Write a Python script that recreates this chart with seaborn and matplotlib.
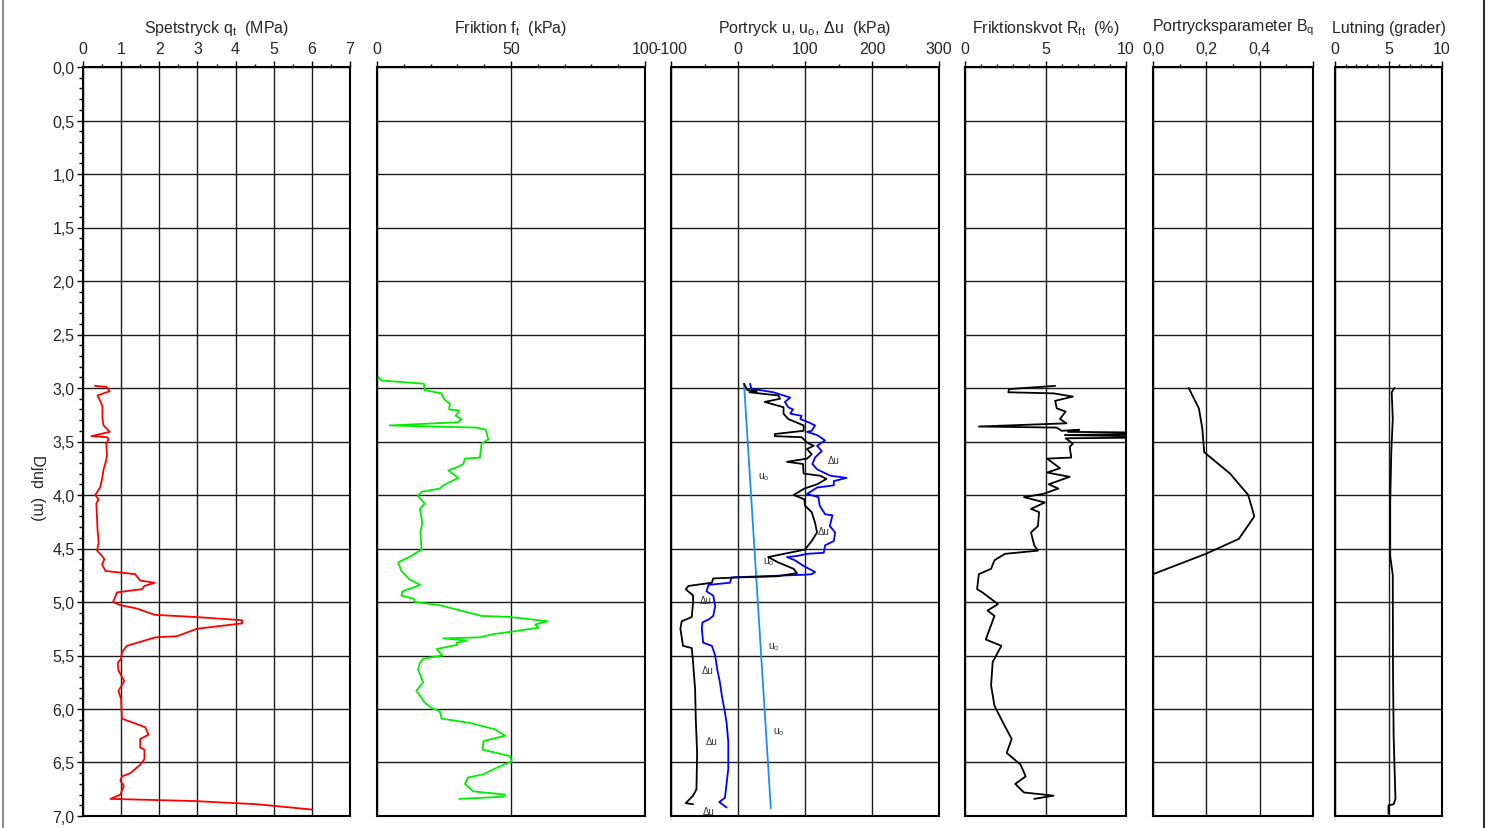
import numpy as np
import pandas as pd
import seaborn as sns
import matplotlib.pyplot as plt
from matplotlib.ticker import MultipleLocator, FixedLocator, FuncFormatter
from matplotlib.lines import Line2D

# Spetstryck qt (MPa)
qt_djup = [2.98, 2.99, 3.03, 3.07, 3.12, 3.17, 3.29, 3.35, 3.41, 3.45, 3.46, 3.48, 3.52, 3.63,
           3.70, 3.76, 3.85, 3.93, 4.00, 4.04, 4.08, 4.23, 4.32, 4.44, 4.52, 4.57, 4.60, 4.65,
           4.71, 4.74, 4.80, 4.82, 4.85, 4.88, 4.91, 5.00, 5.03, 5.06, 5.12, 5.14, 5.17, 5.20,
           5.25, 5.32, 5.33, 5.41, 5.47, 5.53, 5.57, 5.64, 5.74, 5.83, 5.91, 6.09, 6.17, 6.24,
           6.28, 6.36, 6.38, 6.47, 6.52, 6.60, 6.63, 6.67, 6.72, 6.80, 6.84, 6.86, 6.89, 6.94]
qt = [0.31, 0.61, 0.70, 0.38, 0.45, 0.51, 0.51, 0.54, 0.70, 0.22, 0.63, 0.67, 0.61, 0.63,
      0.59, 0.54, 0.50, 0.45, 0.32, 0.41, 0.35, 0.37, 0.38, 0.41, 0.37, 0.50, 0.56, 0.50,
      0.59, 1.37, 1.50, 1.88, 1.61, 1.55, 0.89, 0.79, 0.98, 1.40, 1.88, 2.94, 4.17, 4.17,
      2.99, 2.46, 1.90, 1.15, 1.02, 1.00, 0.91, 0.93, 1.08, 0.93, 1.00, 1.02, 1.63, 1.72,
      1.50, 1.50, 1.61, 1.61, 1.50, 1.24, 1.02, 0.98, 1.07, 0.98, 0.72, 2.90, 4.56, 6.00]

# Friktion ft (kPa)
ft_djup = [2.885, 2.93, 2.96, 3.02, 3.05, 3.10, 3.15, 3.20, 3.21, 3.26, 3.29, 3.32, 3.35, 3.37,
           3.39, 3.48, 3.52, 3.65, 3.66, 3.71, 3.74, 3.77, 3.84, 3.91, 3.94, 3.97, 4.01, 4.08,
           4.13, 4.26, 4.35, 4.51, 4.57, 4.63, 4.71, 4.79, 4.84, 4.90, 4.94, 4.97, 5.00, 5.03,
           5.13, 5.14, 5.18, 5.21, 5.24, 5.28, 5.30, 5.33, 5.34, 5.36, 5.38, 5.40, 5.44, 5.50,
           5.53, 5.57, 5.63, 5.75, 5.83, 5.94, 5.99, 6.02, 6.09, 6.13, 6.19, 6.25, 6.30, 6.38,
           6.44, 6.49, 6.55, 6.61, 6.64, 6.70, 6.77, 6.80, 6.82, 6.84]
ft = [0.0, 1.6, 17.5, 17.8, 24.1, 24.9, 27.2, 26.9, 30.7, 29.4, 31.5, 30.3, 4.7, 37.2,
      40.6, 41.5, 39.0, 38.4, 32.8, 32.2, 29.9, 26.6, 30.3, 24.7, 23.4, 16.6, 15.3, 17.8,
      16.0, 16.9, 16.2, 16.6, 12.8, 7.9, 9.1, 12.2, 16.2, 9.5, 9.1, 13.7, 14.1, 23.4,
      39.0, 49.6, 63.6, 59.0, 60.2, 49.6, 43.4, 38.4, 24.7, 33.4, 29.7, 30.0, 22.2, 24.4,
      17.2, 16.0, 15.3, 17.2, 14.7, 17.8, 20.3, 23.4, 24.1, 34.7, 44.0, 47.8, 39.7, 39.4,
      49.6, 50.2, 44.6, 39.7, 34.0, 32.8, 35.9, 47.8, 47.1, 30.7]

# Portryck u (kPa)
u_djup = [2.96, 3.01, 3.02, 3.04, 3.06, 3.09, 3.13, 3.18, 3.20, 3.24, 3.26, 3.29, 3.32, 3.35,
          3.40, 3.41, 3.44, 3.49, 3.54, 3.59, 3.65, 3.71, 3.76, 3.82, 3.84, 3.87, 3.91, 3.93,
          3.99, 4.02, 4.10, 4.18, 4.19, 4.29, 4.35, 4.43, 4.47, 4.54, 4.55, 4.57, 4.58, 4.61,
          4.66, 4.72, 4.74, 4.745, 4.77, 4.82, 4.84, 4.90, 4.94, 5.04, 5.13, 5.16, 5.19, 5.25,
          5.38, 5.41, 5.50, 5.63, 5.75, 5.88, 6.03, 6.13, 6.31, 6.56, 6.75, 6.83, 6.87, 6.92]
u = [18, 20, 33, 53, 63, 78, 70, 75, 82, 78, 95, 93, 105, 115,
     110, 103, 118, 130, 118, 125, 115, 111, 118, 138, 162, 143, 143, 118,
     103, 120, 122, 130, 141, 137, 145, 143, 130, 128, 103, 88, 73, 85,
     97, 115, 110, 100, -9.5, -12, -44, -47, -37, -34, -37, -43, -53, -54,
     -52, -39, -34, -31, -27, -24, -19.5, -17, -14.5, -14.5, -18, -19.5, -28, -17]

# Portrycksökning du (kPa)
du_djup = [2.96, 3.02, 3.03, 3.04, 3.07, 3.10, 3.13, 3.18, 3.24, 3.29, 3.35, 3.40, 3.43, 3.45,
           3.46, 3.51, 3.54, 3.57, 3.62, 3.66, 3.69, 3.71, 3.80, 3.82, 3.85, 3.90, 3.94, 4.00,
           4.04, 4.10, 4.16, 4.26, 4.35, 4.43, 4.51, 4.58, 4.63, 4.69, 4.73, 4.76, 4.77, 4.78,
           4.82, 4.85, 4.88, 4.94, 5.00, 5.14, 5.18, 5.25, 5.41, 5.43, 5.57, 5.82, 6.10, 6.41,
           6.75, 6.81, 6.88, 6.89]
du = [9, 14, 28, 17, 60, 63, 40, 68, 68, 75, 98, 98, 55, 55,
      95, 103, 113, 103, 110, 103, 73, 97, 98, 123, 132, 118, 99, 83,
      99, 100, 110, 115, 118, 110, 100, 45, 60, 83, 88, 58, 0.5, -37,
      -39, -74, -78, -67, -67, -69, -84, -86, -82, -69, -67, -64, -63, -61,
      -62, -67, -78, -67]

# Hydrostatiskt portryck u0 (kPa)
u0_djup = [2.96, 6.93]
u0 = [9, 49]

u0_etikett_djup = [3.82, 4.62, 5.41, 6.21]
u0_etikett_x = [30, 37, 45, 52]
du_etikett_djup = [3.67, 4.34, 4.98, 5.64, 6.30, 6.95]
du_etikett_x = [134, 119, -57, -54, -48, -52]

# Friktionskvot Rft (%)
rf_djup = [2.98, 3.01, 3.04, 3.05, 3.08, 3.12, 3.19, 3.22, 3.29, 3.33, 3.36, 3.37, 3.40, 3.39,
           3.41, 3.42, 3.44, 3.46, 3.47, 3.52, 3.55, 3.65, 3.66, 3.75, 3.79, 3.83, 3.90, 3.94,
           3.99, 4.02, 4.07, 4.13, 4.16, 4.29, 4.35, 4.47, 4.52, 4.55, 4.61, 4.69, 4.74, 4.88,
           4.91, 5.02, 5.08, 5.13, 5.35, 5.41, 5.56, 5.78, 5.97, 6.13, 6.28, 6.41, 6.52, 6.63,
           6.70, 6.78, 6.81, 6.84]
rf = [5.6, 2.74, 2.69, 5.5, 6.7, 5.6, 5.7, 6.25, 5.9, 6.3, 0.86, 5.7, 6.0, 7.1,
      6.4, 14.0, 6.2, 14.0, 6.25, 6.7, 6.5, 6.6, 5.1, 5.9, 5.1, 6.5, 5.2, 5.8,
      4.85, 3.66, 4.96, 4.1, 4.6, 4.53, 4.1, 4.3, 4.53, 2.48, 1.83, 1.62, 0.86, 0.75,
      1.08, 2.05, 1.4, 1.83, 1.29, 2.26, 1.72, 1.62, 1.83, 2.37, 2.9, 2.59, 3.45, 3.77,
      3.12, 3.66, 5.5, 4.3]

# Portrycksparameter Bq
bq_djup = [3.00, 3.19, 3.38, 3.60, 3.80, 4.00, 4.20, 4.41, 4.55, 4.74]
bq = [0.134, 0.172, 0.185, 0.192, 0.289, 0.357, 0.380, 0.322, 0.198, 0.0]

# Lutning (grader)
lut_djup = [3.00, 3.04, 3.29, 3.60, 4.07, 4.57, 4.75, 5.63, 6.25, 6.84, 6.89, 6.90, 6.98]
lut = [5.55, 5.3, 5.4, 5.26, 5.16, 5.16, 5.4, 5.42, 5.48, 5.65, 5.48, 5.0, 5.0]

sns.set_style("white")
plt.rcParams['font.family'] = ['Liberation Sans', 'DejaVu Sans']
plt.rcParams['mathtext.fontset'] = 'custom'
plt.rcParams['mathtext.rm'] = 'Liberation Sans'

W, H = 1491, 829
fig = plt.figure(figsize=(W / 100, H / 100), dpi=100)

top_px, bot_px = 68, 817
paneler = [(83, 350), (377, 645), (671, 939), (965, 1126), (1153, 1313), (1335, 1442)]
axes = []
for x0, x1 in paneler:
    ax = fig.add_axes([x0 / W, 1 - bot_px / H, (x1 - x0) / W, (bot_px - top_px) / H])
    axes.append(ax)

fs = 11.5


def komma(fmt):
    return FuncFormatter(lambda v, p: fmt.format(v).replace('.', ','))


def stil(ax, xlim, major, minor, fmt, titel):
    ax.set_xlim(xlim)
    ax.set_ylim(7, 0)
    ax.set_xlabel('')
    ax.set_ylabel('')
    ax.xaxis.tick_top()
    ax.xaxis.set_major_locator(FixedLocator(major))
    ax.xaxis.set_minor_locator(MultipleLocator(minor))
    ax.xaxis.set_major_formatter(fmt)
    ax.tick_params(axis='x', which='major', length=4.3, width=1, direction='out',
                   pad=3.5, labelsize=fs, color='black')
    ax.tick_params(axis='x', which='minor', length=2.5, width=1, direction='out', color='black')
    ax.yaxis.set_major_locator(MultipleLocator(0.5))
    ax.tick_params(axis='y', which='both', left=False, labelleft=False)
    ax.grid(True, which='major', color='0.1', lw=1.0)
    for s in ax.spines.values():
        s.set_color('black')
        s.set_linewidth(1.5)
    ax.text(0.5, 1 + 40 / (bot_px - top_px), titel, transform=ax.transAxes,
            ha='center', va='center', fontsize=fs)


lw = 1.3
sns.lineplot(x=qt, y=qt_djup, sort=False, estimator=None, color='#ff0000', lw=lw, ax=axes[0])
sns.lineplot(x=ft, y=ft_djup, sort=False, estimator=None, color='#00ee00', lw=lw, ax=axes[1])
sns.lineplot(x=u0, y=u0_djup, sort=False, estimator=None, color='#1a8cff', lw=lw, ax=axes[2])
sns.lineplot(x=u, y=u_djup, sort=False, estimator=None, color='#0000ff', lw=lw, ax=axes[2])
sns.lineplot(x=du, y=du_djup, sort=False, estimator=None, color='black', lw=lw, ax=axes[2])
sns.lineplot(x=rf, y=rf_djup, sort=False, estimator=None, color='black', lw=lw, ax=axes[3])
sns.lineplot(x=bq, y=bq_djup, sort=False, estimator=None, color='black', lw=lw, ax=axes[4])
sns.lineplot(x=lut, y=lut_djup, sort=False, estimator=None, color='black', lw=lw, ax=axes[5])

for x, d in zip(u0_etikett_x, u0_etikett_djup):
    axes[2].text(x, d, 'u$_\\mathregular{o}$', fontsize=7.5, ha='left', va='center', color='0.2')
for x, d in zip(du_etikett_x, du_etikett_djup):
    axes[2].text(x, d, 'Δu', fontsize=7, ha='left', va='center', color='0.2')

heltal = FuncFormatter(lambda v, p: '{:d}'.format(int(round(v))))
stil(axes[0], (0, 7), [0, 1, 2, 3, 4, 5, 6, 7], 0.5, heltal,
     'Spetstryck q$_\\mathregular{t}$  (MPa)')
stil(axes[1], (0, 100), [0, 50, 100], 10, heltal,
     'Friktion f$_\\mathregular{t}$  (kPa)')
stil(axes[2], (-100, 300), [-100, 0, 100, 200, 300], 50, heltal,
     'Portryck u, u$_\\mathregular{o}$, Δu  (kPa)')
stil(axes[3], (0, 10), [0, 5, 10], 1, heltal,
     'Friktionskvot R$_\\mathregular{ft}$  (%)')
stil(axes[4], (0, 0.6), [0, 0.2, 0.4, 0.6], 0.1,
     FuncFormatter(lambda v, p: '' if v > 0.5 else '{:.1f}'.format(v).replace('.', ',')),
     'Portrycksparameter B$_\\mathregular{q}$')
stil(axes[5], (0, 10), [0, 5, 10], 1, heltal, 'Lutning (grader)')

# djupaxel
ax = axes[0]
ax.yaxis.set_minor_locator(MultipleLocator(0.1))
ax.yaxis.set_major_formatter(komma('{:.1f}'))
ax.tick_params(axis='y', which='major', left=True, labelleft=True, length=4, width=1,
               direction='out', pad=2, labelsize=fs, color='black')
ax.tick_params(axis='y', which='minor', left=True, length=3, width=1, direction='out',
               color='black')
fig.text(37 / W, 1 - 488 / H, 'Djup  (m)', rotation=270, ha='center', va='center',
         fontsize=fs)

# sidram
fig.add_artist(Line2D([3 / W, 3 / W], [0, 1], color='0.45', lw=1.2))
fig.add_artist(Line2D([1484 / W, 1484 / W], [0, 1], color='black', lw=1.2))

fig.savefig('out.png', dpi=100)
